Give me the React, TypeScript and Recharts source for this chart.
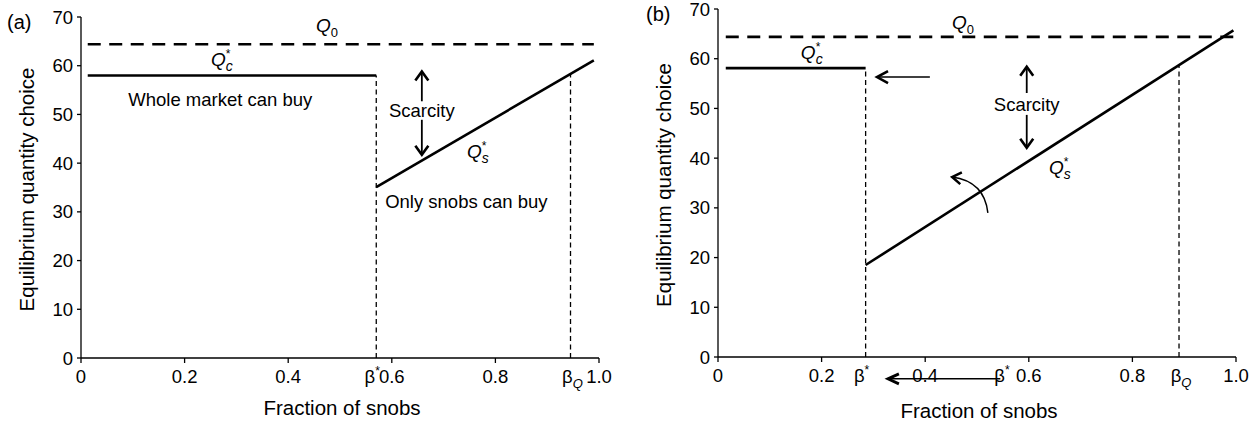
import React from 'react';
import { LineChart, Line, XAxis, YAxis, ReferenceLine, ReferenceDot } from 'recharts';

const FONT = '"Liberation Sans", Arial, Helvetica, sans-serif';

const xTicks = [0, 0.2, 0.4, 0.6, 0.8, 1.0];
const xTickLabels = ['0', '0.2', '0.4', '0.6', '0.8', '1.0'];
const yTicks = [0, 10, 20, 30, 40, 50, 60, 70];

// Panel (a)
const q0A = [{ x: 0.013, y: 64.4 }, { x: 0.99, y: 64.4 }];
const qcA = [{ x: 0.013, y: 58 }, { x: 0.57, y: 58 }];
const qsA = [{ x: 0.57, y: 35.1 }, { x: 0.99, y: 61.1 }];
const betaStarA = [{ x: 0.57, y: 0 }, { x: 0.57, y: 58 }];
const betaQA = [{ x: 0.945, y: 0 }, { x: 0.945, y: 58.5 }];
const scarcityUpA = [{ x: 0.658, y: 52.7 }, { x: 0.658, y: 58.8 }];
const scarcityDownA = [{ x: 0.658, y: 48.9 }, { x: 0.658, y: 41.7 }];

// Panel (b)
const q0B = [{ x: 0.015, y: 64.4 }, { x: 0.995, y: 64.4 }];
const qcB = [{ x: 0.015, y: 58.1 }, { x: 0.285, y: 58.1 }];
const qsB = [{ x: 0.285, y: 18.5 }, { x: 0.995, y: 65.7 }];
const betaStarB = [{ x: 0.285, y: 0 }, { x: 0.285, y: 58.1 }];
const betaQB = [{ x: 0.89, y: 0 }, { x: 0.89, y: 58.9 }];
const scarcityUpB = [{ x: 0.596, y: 53.1 }, { x: 0.596, y: 58.4 }];
const scarcityDownB = [{ x: 0.596, y: 48.7 }, { x: 0.596, y: 42.1 }];
const leftArrowB = [{ x: 0.409, y: 56.3 }, { x: 0.307, y: 56.3 }];
const curveArrowB = [{ x: 0.521, y: 29.0 }, { x: 0.452, y: 36.2 }];
const bottomArrowB = [{ x: 0.545, y: -4.4 }, { x: 0.328, y: -4.4 }];

// Text annotation anchors
const labelsA = {
  q0: { x: 0.475, y: 68.3 },
  qc: { x: 0.272, y: 61.3 },
  whole: { x: 0.269, y: 53.0 },
  scarcity: { x: 0.658, y: 50.8 },
  qs: { x: 0.766, y: 42.4 },
  only: { x: 0.744, y: 32.1 },
  betaStar: { x: 0.57, y: 0 },
  betaQ: { x: 0.945, y: 0 },
};
const labelsB = {
  q0: { x: 0.473, y: 67.3 },
  qc: { x: 0.181, y: 61.2 },
  scarcity: { x: 0.596, y: 50.8 },
  qs: { x: 0.66, y: 38.2 },
  betaStar1: { x: 0.285, y: 0 },
  betaStar2: { x: 0.556, y: 0 },
  betaQ: { x: 0.89, y: 0 },
};

const arrowShape = (headLen: number, headHalf: number, shaftW: number, headW: number) => (props: any) => {
  const { x1, y1, x2, y2 } = props;
  const dx = x2 - x1;
  const dy = y2 - y1;
  const len = Math.hypot(dx, dy) || 1;
  const ux = dx / len;
  const uy = dy / len;
  const bx = x2 - ux * headLen;
  const by = y2 - uy * headLen;
  const px = -uy * headHalf;
  const py = ux * headHalf;
  return (
    <g>
      <line x1={x1} y1={y1} x2={x2 - ux * 1} y2={y2 - uy * 1} stroke="#000" strokeWidth={shaftW} />
      <polyline
        points={`${bx + px},${by + py} ${x2},${y2} ${bx - px},${by - py}`}
        fill="none"
        stroke="#000"
        strokeWidth={headW}
        strokeLinejoin="miter"
      />
    </g>
  );
};

const curvedArrowShape = (props: any) => {
  const { x1, y1, x2, y2 } = props;
  const cx = x1 + (x2 - x1) * 0.1;
  const cy = y2 + (y1 - y2) * 0.12;
  const dx = x2 - cx;
  const dy = y2 - cy;
  const len = Math.hypot(dx, dy) || 1;
  const ux = dx / len;
  const uy = dy / len;
  const headLen = 9;
  const headHalf = 6;
  const bx = x2 - ux * headLen;
  const by = y2 - uy * headLen;
  const px = -uy * headHalf;
  const py = ux * headHalf;
  return (
    <g>
      <path d={`M${x1},${y1} Q${cx},${cy} ${x2},${y2}`} fill="none" stroke="#000" strokeWidth={1.5} />
      <polyline points={`${bx + px},${by + py} ${x2},${y2} ${bx - px},${by - py}`} fill="none" stroke="#000" strokeWidth={2.5} />
    </g>
  );
};

const textStyle = { fontFamily: FONT, fill: '#000' } as const;

const plainText = (value: string, size = 18.5) => (p: any) => (
  <text x={p.cx} y={p.cy} dy="0.35em" textAnchor="middle" fontSize={size} style={textStyle}>
    {value}
  </text>
);

const q0Text = (p: any) => (
  <text x={p.cx} y={p.cy} dy="0.35em" textAnchor="middle" fontSize={19} style={textStyle}>
    <tspan fontStyle="italic">Q</tspan>
    <tspan fontSize={13} dy={5}>0</tspan>
  </text>
);

const qStarText = (sub: string) => (p: any) => (
  <text x={p.cx} y={p.cy} dy="0.35em" textAnchor="middle" fontSize={19} style={textStyle}>
    <tspan fontStyle="italic">Q</tspan>
    <tspan fontSize={14} fontStyle="italic" dy={5}>{sub}</tspan>
    <tspan fontSize={12} dx={-7} dy={-13}>*</tspan>
  </text>
);

const betaStarText = (p: any) => (
  <text x={p.cx - 4} y={p.cy + 25} textAnchor="middle" fontSize={18.5} style={textStyle}>
    <tspan>β</tspan>
    <tspan fontSize={12} dy={-8}>*</tspan>
  </text>
);

const betaQText = (p: any) => (
  <text x={p.cx + 2} y={p.cy + 25} textAnchor="middle" fontSize={18.5} style={textStyle}>
    <tspan>β</tspan>
    <tspan fontSize={13} fontStyle="italic" dy={5}>Q</tspan>
  </text>
);

const yLabel = (panel: string, titleX: number, panelX: number) => (props: any) => {
  const vb = props.viewBox || {};
  const cy = vb.y + vb.height / 2 + 2;
  return (
    <g>
      <text x={panelX} y={vb.y + 12} fontSize={20} style={textStyle}>{panel}</text>
      <text
        x={titleX}
        y={cy}
        dy="0.35em"
        textAnchor="middle"
        fontSize={20.5}
        transform={`rotate(-90, ${titleX}, ${cy})`}
        style={textStyle}
      >
        Equilibrium quantity choice
      </text>
    </g>
  );
};

const xLabel = (dy: number) => (props: any) => {
  const vb = props.viewBox || {};
  return (
    <text x={vb.x + vb.width / 2 + 2} y={vb.y + dy} textAnchor="middle" fontSize={20.5} style={textStyle}>
      Fraction of snobs
    </text>
  );
};

const axisCommon = {
  axisLine: { stroke: '#000', strokeWidth: 1.3 },
  tickLine: { stroke: '#000', strokeWidth: 1.3 },
  tick: { fill: '#000', fontSize: 18.5, fontFamily: FONT },
};

const solid = { stroke: '#000', strokeWidth: 2.6, dot: false, isAnimationActive: false, type: 'linear' as const };
const thinDash = { stroke: '#000', strokeWidth: 1.3, strokeDasharray: '5 3.5', dot: false, isAnimationActive: false, type: 'linear' as const };
const bigDash = { stroke: '#000', strokeWidth: 2.6, strokeDasharray: '13 8.5', dot: false, isAnimationActive: false, type: 'linear' as const };

function PanelA() {
  return (
    <LineChart width={620} height={427} margin={{ top: 17, right: 21, left: 0, bottom: 0 }}>
      <XAxis
        type="number"
        dataKey="x"
        domain={[0, 1]}
        ticks={xTicks}
        tickFormatter={(v: number, i: number) => xTickLabels[i]}
        height={69}
        tickSize={5}
        tickMargin={7}
        interval={0}
        {...axisCommon}
        label={{ content: xLabel(57) }}
      />
      <YAxis
        type="number"
        domain={[0, 70]}
        ticks={yTicks}
        width={81}
        tickSize={4}
        tickMargin={4}
        interval={0}
        {...axisCommon}
        label={{ content: yLabel('(a)', 27, 7) }}
      />
      <Line data={betaStarA} dataKey="y" {...thinDash} />
      <Line data={betaQA} dataKey="y" {...thinDash} />
      <Line data={q0A} dataKey="y" {...bigDash} />
      <Line data={qcA} dataKey="y" {...solid} />
      <Line data={qsA} dataKey="y" {...solid} />
      <ReferenceLine segment={scarcityUpA} shape={arrowShape(9, 6.5, 1.8, 2.6)} />
      <ReferenceLine segment={scarcityDownA} shape={arrowShape(9, 6.5, 1.8, 2.6)} />
      <ReferenceDot x={labelsA.q0.x} y={labelsA.q0.y} shape={q0Text} />
      <ReferenceDot x={labelsA.qc.x} y={labelsA.qc.y} shape={qStarText('c')} />
      <ReferenceDot x={labelsA.whole.x} y={labelsA.whole.y} shape={plainText('Whole market can buy')} />
      <ReferenceDot x={labelsA.scarcity.x} y={labelsA.scarcity.y} shape={plainText('Scarcity')} />
      <ReferenceDot x={labelsA.qs.x} y={labelsA.qs.y} shape={qStarText('s')} />
      <ReferenceDot x={labelsA.only.x} y={labelsA.only.y} shape={plainText('Only snobs can buy')} />
      <ReferenceDot x={labelsA.betaStar.x} y={labelsA.betaStar.y} shape={betaStarText} />
      <ReferenceDot x={labelsA.betaQ.x} y={labelsA.betaQ.y} shape={betaQText} />
    </LineChart>
  );
}

function PanelB() {
  return (
    <LineChart width={630} height={427} margin={{ top: 9, right: 14, left: 0, bottom: 0 }}>
      <XAxis
        type="number"
        dataKey="x"
        domain={[0, 1]}
        ticks={xTicks}
        tickFormatter={(v: number, i: number) => xTickLabels[i]}
        height={70}
        tickSize={5}
        tickMargin={7}
        interval={0}
        {...axisCommon}
        label={{ content: xLabel(61) }}
      />
      <YAxis
        type="number"
        domain={[0, 70]}
        ticks={yTicks}
        width={98}
        tickSize={4}
        tickMargin={4}
        interval={0}
        {...axisCommon}
        label={{ content: yLabel('(b)', 44, 26) }}
      />
      <Line data={betaStarB} dataKey="y" {...thinDash} />
      <Line data={betaQB} dataKey="y" {...thinDash} />
      <Line data={q0B} dataKey="y" {...bigDash} />
      <Line data={qcB} dataKey="y" {...solid} />
      <Line data={qsB} dataKey="y" {...solid} />
      <ReferenceLine segment={scarcityUpB} shape={arrowShape(9, 6.5, 1.8, 2.6)} />
      <ReferenceLine segment={scarcityDownB} shape={arrowShape(9, 6.5, 1.8, 2.6)} />
      <ReferenceLine segment={leftArrowB} shape={arrowShape(11, 6, 1.5, 2.6)} />
      <ReferenceLine segment={curveArrowB} shape={curvedArrowShape} />
      <ReferenceLine segment={bottomArrowB} ifOverflow="visible" shape={arrowShape(11, 5, 1.5, 2.8)} />
      <ReferenceDot x={labelsB.q0.x} y={labelsB.q0.y} shape={q0Text} />
      <ReferenceDot x={labelsB.qc.x} y={labelsB.qc.y} shape={qStarText('c')} />
      <ReferenceDot x={labelsB.scarcity.x} y={labelsB.scarcity.y} shape={plainText('Scarcity')} />
      <ReferenceDot x={labelsB.qs.x} y={labelsB.qs.y} shape={qStarText('s')} />
      <ReferenceDot x={labelsB.betaStar1.x} y={labelsB.betaStar1.y} shape={betaStarText} />
      <ReferenceDot x={labelsB.betaStar2.x} y={labelsB.betaStar2.y} shape={betaStarText} />
      <ReferenceDot x={labelsB.betaQ.x} y={labelsB.betaQ.y} shape={betaQText} />
    </LineChart>
  );
}

export default function App() {
  return (
    <div style={{ position: 'absolute', left: 0, top: 0, width: 1250, height: 427, background: '#fff', fontFamily: FONT }}>
      <div style={{ position: 'absolute', left: 0, top: 0 }}>
        <PanelA />
      </div>
      <div style={{ position: 'absolute', left: 620, top: 0 }}>
        <PanelB />
      </div>
    </div>
  );
}
